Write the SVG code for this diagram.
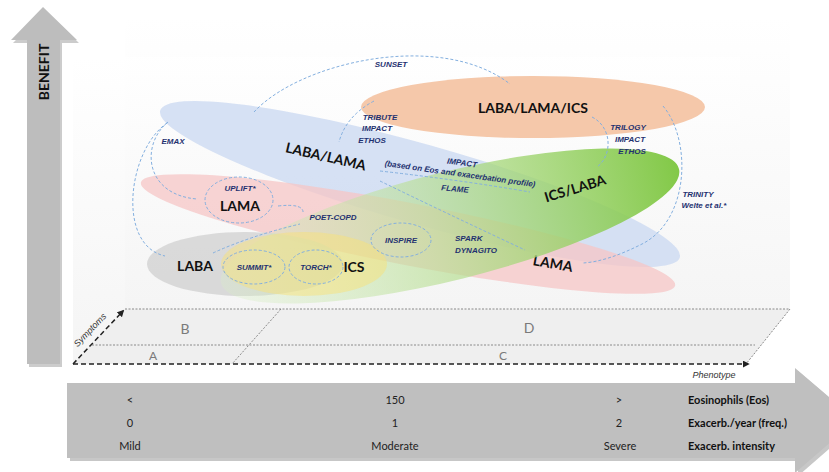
<svg xmlns="http://www.w3.org/2000/svg" width="829" height="472" viewBox="0 0 829 472">
<defs>
<linearGradient id="gGreen" x1="0" y1="0" x2="1" y2="0">
<stop offset="0" stop-color="#d8eec6" stop-opacity="0.3"/>
<stop offset="0.45" stop-color="#b9df95" stop-opacity="0.65"/>
<stop offset="1" stop-color="#7cc63e" stop-opacity="0.95"/>
</linearGradient>
<linearGradient id="gPanel" x1="0" y1="0" x2="0" y2="1">
<stop offset="0" stop-color="#ffffff"/>
<stop offset="1" stop-color="#f2f2f2"/>
</linearGradient>
<marker id="ah" viewBox="0 0 8 8" refX="6" refY="4" markerWidth="7" markerHeight="7" orient="auto" markerUnits="userSpaceOnUse">
<path d="M0,0 L8,4 L0,8 z" fill="#222"/>
</marker>
<style>
.lbl{font-family:Lato,"Liberation Sans",sans-serif;font-weight:700;font-size:14px;fill:#111;text-anchor:middle;dominant-baseline:central}
.st{font-family:"Liberation Sans",Arial,sans-serif;font-weight:700;font-style:italic;font-size:8px;fill:#1f3170;text-anchor:middle;dominant-baseline:central}
.dash{fill:none;stroke:#83afdf;stroke-width:1;stroke-dasharray:3 2}
.ax{font-family:Lato,"Liberation Sans",sans-serif;font-size:11px;fill:#222;text-anchor:middle;dominant-baseline:central}
.axb{font-family:Lato,"Liberation Sans",sans-serif;font-size:11px;font-weight:700;fill:#111;dominant-baseline:central}
.grid{fill:none;stroke:#8a8a8a;stroke-width:1;stroke-dasharray:2 1.5}
.blk{fill:none;stroke:#222;stroke-width:1.5;stroke-dasharray:5 3}
.quad{font-family:Lato,"Liberation Sans",sans-serif;fill:#7a7a7a;text-anchor:middle;dominant-baseline:central}
.axl{font-family:"Liberation Sans",Arial,sans-serif;font-style:italic;font-size:9px;fill:#333;text-anchor:middle;dominant-baseline:central}
</style>
</defs>
<rect width="829" height="472" fill="#ffffff"/>

<!-- background panels -->
<g id="background">
<rect x="125" y="17" width="665" height="292" fill="url(#gPanel)" opacity="0.7"/>
<rect x="73" y="57" width="667" height="307" fill="url(#gPanel)" opacity="0.8"/>
<polygon points="125,309 790,309 746,364 73,364" fill="#efefef"/>
</g>

<!-- Benefit axis -->
<g id="benefit-axis">
<polygon points="45,10 79,43 62,43 62,367 29,367 29,43 13,43" fill="#9a9a9a" opacity="0.5"/>
<polygon points="43,7 77,40 60,40 60,364 27,364 27,40 11,40" fill="#bdbdbd"/>
<text x="43" y="72" transform="rotate(-90 43 72)" font-family="Lato,'Liberation Sans',sans-serif" font-weight="700" font-size="14" fill="#111" text-anchor="middle" dominant-baseline="central">BENEFIT</text>
</g>

<!-- bottom phenotype plane -->
<g id="plane">
<line class="grid" x1="125" y1="309" x2="790" y2="309"/>
<line class="grid" x1="92" y1="345" x2="755" y2="345"/>
<line class="grid" x1="790" y1="309" x2="746" y2="364"/>
<line class="grid" x1="281" y1="309" x2="232" y2="364"/>
<text class="quad" x="185" y="328" font-size="14">B</text>
<text class="quad" x="153" y="355" font-size="12">A</text>
<text class="quad" x="529" y="327" font-size="14">D</text>
<text class="quad" x="503" y="355" font-size="12">C</text>
<line class="blk" x1="73" y1="364" x2="123" y2="311" marker-end="url(#ah)"/>
<line class="blk" x1="73" y1="364" x2="748" y2="364" marker-end="url(#ah)"/>
<text class="axl" x="90" y="330" transform="rotate(-46 90 330)">Symptoms</text>
<text class="axl" x="714" y="375">Phenotype</text>
</g>

<!-- treatment nodes -->
<g id="node-laba-lama-ics">
<ellipse cx="533" cy="107" rx="172" ry="31" fill="#f5c8aa"/>
<text class="lbl" x="533" y="107">LABA/LAMA/ICS</text>
</g>
<g id="node-laba-lama">
<ellipse cx="420" cy="184" rx="270" ry="40" fill="#cfdcf2" opacity="0.85" transform="rotate(15.8 420 184)"/>
<text class="lbl" x="326" y="156" transform="rotate(13 326 156)">LABA/LAMA</text>
</g>
<g id="node-lama">
<ellipse cx="408" cy="234" rx="272" ry="31" fill="#f6c6c6" opacity="0.75" transform="rotate(10.9 408 234)"/>
<text class="lbl" x="240" y="205">LAMA</text>
<text class="lbl" x="553" y="263" transform="rotate(10 553 263)">LAMA</text>
</g>
<g id="node-laba">
<ellipse cx="245" cy="264" rx="98" ry="32" fill="#d6d6d6" opacity="0.9"/>
<text class="lbl" x="195" y="265">LABA</text>
</g>
<g id="node-ics-laba">
<ellipse cx="450" cy="226" rx="236" ry="54" fill="url(#gGreen)" transform="rotate(-14 450 226)"/>
<text class="lbl" x="575" y="188" transform="rotate(-17 575 188)">ICS/LABA</text>
</g>
<g id="node-ics">
<ellipse cx="304" cy="264" rx="83" ry="32" fill="#f7e27a" opacity="0.5"/>
<text class="lbl" x="354" y="266">ICS</text>
</g>

<!-- study groups -->
<g id="study-uplift">
<ellipse class="dash" cx="239" cy="200" rx="34" ry="23"/>
<text class="st" x="240" y="188">UPLIFT*</text>
</g>
<g id="study-summit">
<ellipse class="dash" cx="254" cy="267" rx="31" ry="17"/>
<text class="st" x="254" y="267">SUMMIT*</text>
</g>
<g id="study-torch">
<ellipse class="dash" cx="316" cy="267" rx="27" ry="17"/>
<text class="st" x="316" y="267">TORCH*</text>
</g>
<g id="study-inspire">
<ellipse class="dash" cx="401" cy="240" rx="30" ry="17"/>
<text class="st" x="401" y="240">INSPIRE</text>
</g>

<!-- connectors -->
<g id="connectors">
<path class="dash" d="M254,112 C300,62 440,30 510,84"/>
<path class="dash" d="M374,101 Q346,116 339,142"/>
<path class="dash" d="M168,122 C140,145 145,195 197,199"/>
<path class="dash" d="M167,123 C128,150 116,245 165,256"/>
<path class="dash" d="M278,206 Q305,203 303,214"/>
<path class="dash" d="M213,253 Q250,236 300,224"/>
<path class="dash" d="M380,171 Q460,180 530,192"/>
<path class="dash" d="M380,181 Q450,215 525,250"/>
<path class="dash" d="M592,117 C612,127 613,155 597,167"/>
<path class="dash" d="M663,106 C692,140 690,222 640,245 C620,255 600,262 583,263"/>
</g>

<!-- study labels -->
<g id="study-labels">
<text class="st" x="391" y="64">SUNSET</text>
<text class="st" x="380" y="117">TRIBUTE</text>
<text class="st" x="377" y="128">IMPACT</text>
<text class="st" x="372" y="140">ETHOS</text>
<text class="st" x="173" y="141">EMAX</text>
<text class="st" x="628" y="127">TRILOGY</text>
<text class="st" x="630" y="139">IMPACT</text>
<text class="st" x="632" y="151">ETHOS</text>
<text class="st" x="462" y="163" transform="rotate(8 462 163)">IMPACT</text>
<text class="st" x="460" y="174" font-weight="400" font-size="6.8" transform="rotate(8 460 174)">(based on Eos and exacerbation profile)</text>
<text class="st" x="455" y="189" transform="rotate(5 455 189)">FLAME</text>
<text class="st" x="698" y="194">TRINITY</text>
<text class="st" x="704" y="205">Welte et al.*</text>
<text class="st" x="333" y="217">POET-COPD</text>
<text class="st" x="455" y="238" style="text-anchor:start">SPARK</text>
<text class="st" x="455" y="250" style="text-anchor:start">DYNAGITO</text>
</g>

<!-- phenotype arrow -->
<g id="phenotype-axis">
<polygon points="70,386 798,386 798,371 859,423 798,476 798,461 70,461" fill="#8f8f8f" opacity="0.5"/>
<polygon points="67,383 795,383 795,368 856,420 795,473 795,458 67,458" fill="#bfbfbf"/>
<text class="ax" x="130" y="399">&lt;</text>
<text class="ax" x="130" y="422">0</text>
<text class="ax" x="130" y="445">Mild</text>
<text class="ax" x="395" y="399">150</text>
<text class="ax" x="395" y="422">1</text>
<text class="ax" x="395" y="445">Moderate</text>
<text class="ax" x="619" y="399">&gt;</text>
<text class="ax" x="619" y="422">2</text>
<text class="ax" x="620" y="445">Severe</text>
<text class="axb" x="688" y="399">Eosinophils (Eos)</text>
<text class="axb" x="688" y="422">Exacerb./year (freq.)</text>
<text class="axb" x="688" y="445">Exacerb. intensity</text>
</g>
</svg>
